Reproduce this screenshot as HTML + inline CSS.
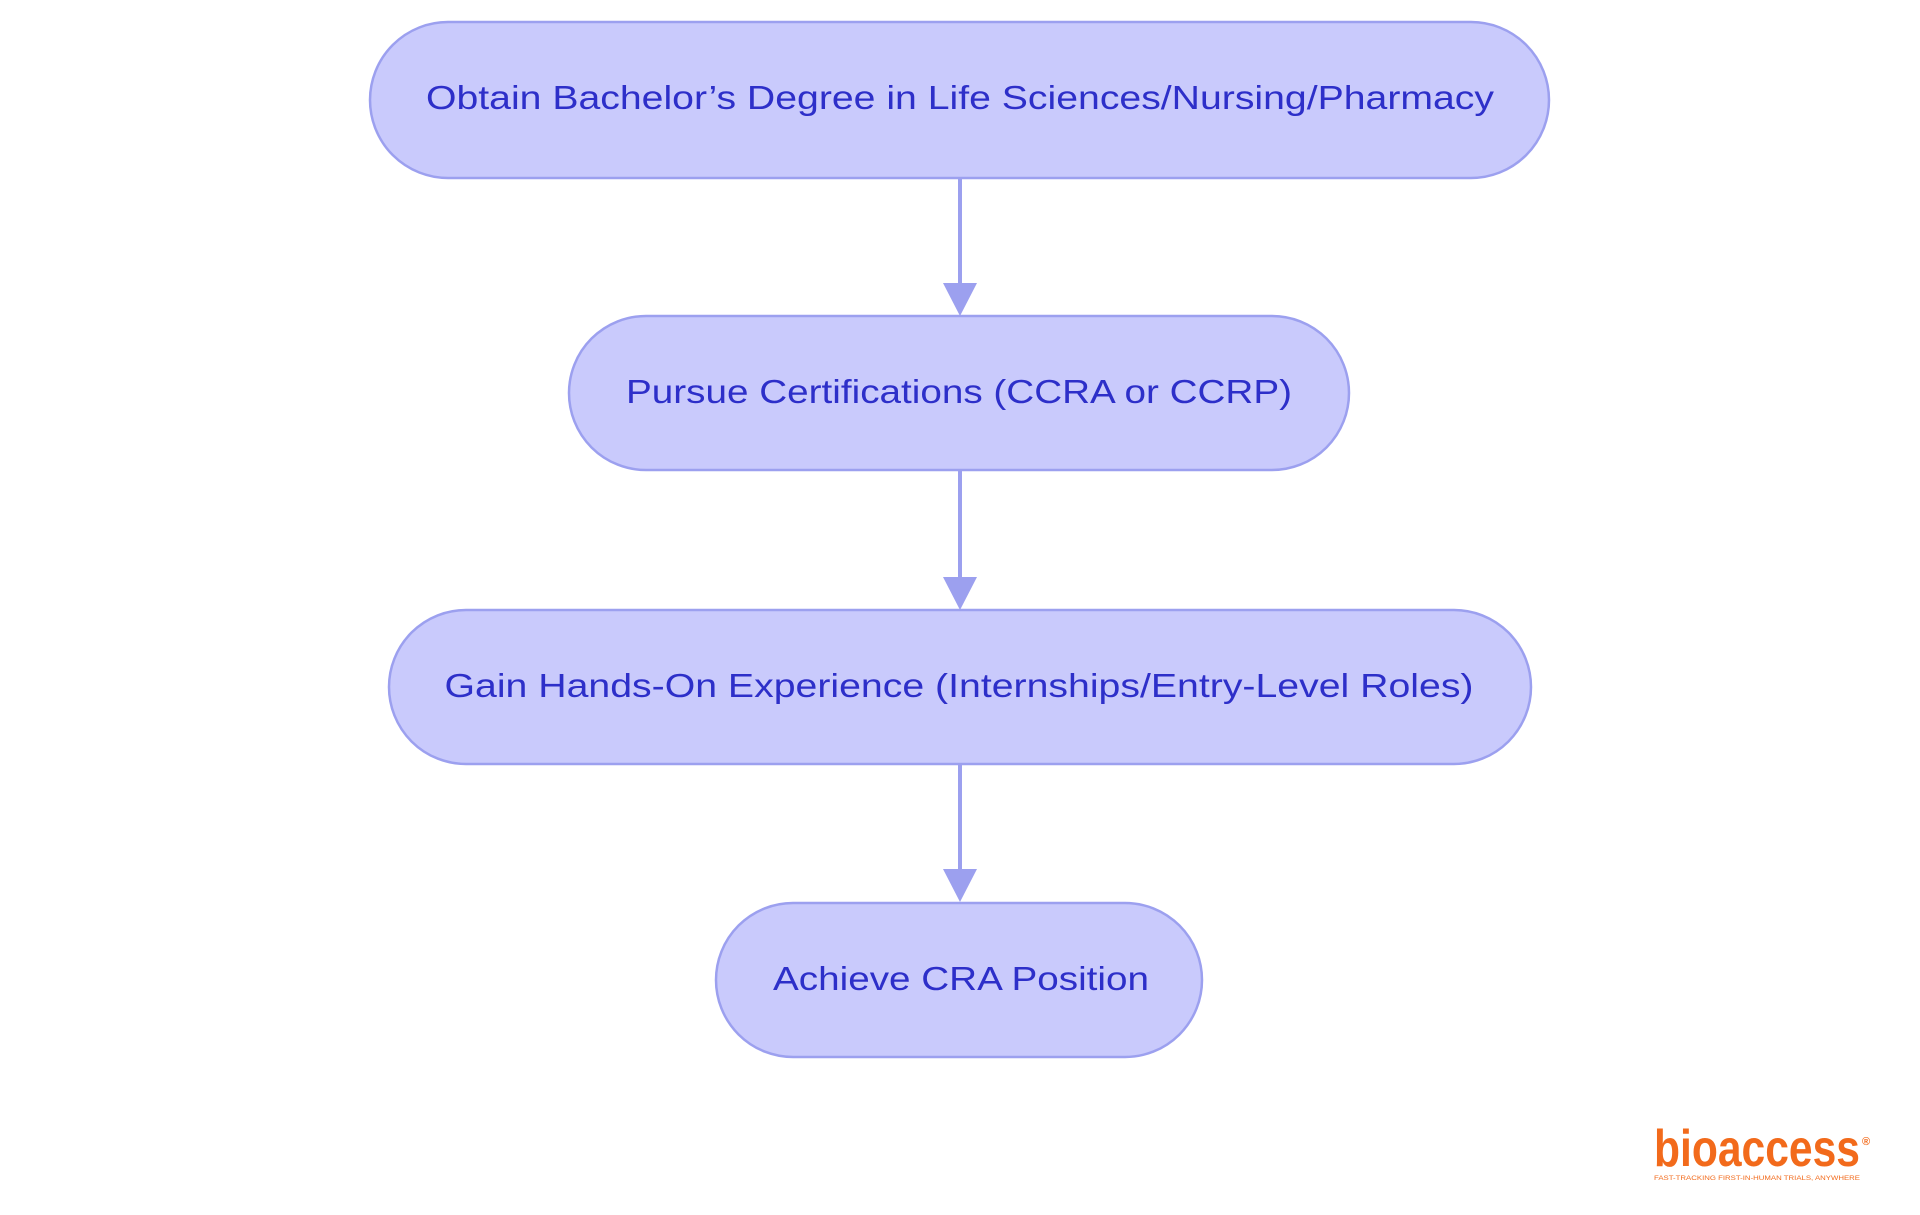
<!DOCTYPE html>
<html><head><meta charset="utf-8"><style>
html,body{margin:0;padding:0;background:#fff;}
svg{display:block;}
</style></head><body>
<svg width="1920" height="1215" viewBox="0 0 1920 1215" xmlns="http://www.w3.org/2000/svg">
<g stroke="#9ca0ef" stroke-width="4" fill="none">
<line x1="960" y1="178" x2="960" y2="290"/>
<line x1="960" y1="470" x2="960" y2="584"/>
<line x1="960" y1="764" x2="960" y2="876"/>
</g>
<g fill="#9ca0ef">
<polygon points="943,283 977,283 960,316"/>
<polygon points="943,577 977,577 960,610"/>
<polygon points="943,869 977,869 960,902"/>
</g>
<g fill="#c9cafc" stroke="#9ca0ef" stroke-width="2.5">
<rect x="370" y="22" width="1179" height="156" rx="78"/>
<rect x="569" y="316" width="780" height="154" rx="77"/>
<rect x="389" y="610" width="1142" height="154" rx="77"/>
<rect x="716" y="903" width="486" height="154" rx="77"/>
</g>
<g fill="#2d2fc9" font-family="Liberation Sans, sans-serif" font-size="33" text-anchor="middle">
<text x="960" y="109" textLength="1068" lengthAdjust="spacingAndGlyphs">Obtain Bachelor’s Degree in Life Sciences/Nursing/Pharmacy</text>
<text x="959" y="403" textLength="666" lengthAdjust="spacingAndGlyphs">Pursue Certifications (CCRA or CCRP)</text>
<text x="959" y="697" textLength="1029" lengthAdjust="spacingAndGlyphs">Gain Hands-On Experience (Internships/Entry-Level Roles)</text>
<text x="961" y="990" textLength="376" lengthAdjust="spacingAndGlyphs">Achieve CRA Position</text>
</g>
<g fill="#f26a1b" font-family="Liberation Sans, sans-serif" font-weight="bold">
<text x="1654" y="1166" font-size="52" textLength="206" lengthAdjust="spacingAndGlyphs">bioaccess</text>
<text x="1862" y="1145" font-size="11">®</text>
<text x="1654" y="1180" font-size="6.5" textLength="206" lengthAdjust="spacingAndGlyphs" font-weight="normal">FAST-TRACKING FIRST-IN-HUMAN TRIALS, ANYWHERE</text>
</g>
</svg>
</body></html>
